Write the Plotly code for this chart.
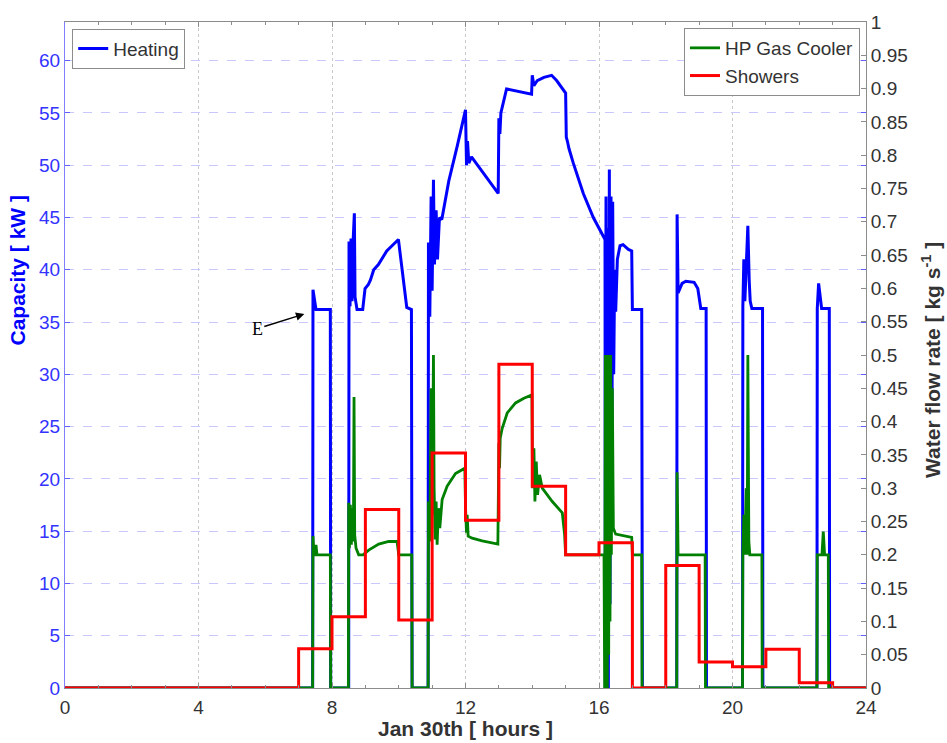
import plotly.graph_objects as go

# Heating capacity [kW], left axis
heat_t = [0, 7.42, 7.43, 7.52, 7.95, 7.96,
          8.50, 8.51, 8.54, 8.57, 8.60, 8.63, 8.67, 8.69, 8.75, 8.92, 8.99, 9.09, 9.15, 9.25,
          9.39, 9.64, 9.99, 10.24, 10.38, 10.40,
          10.88, 10.89, 10.93, 10.97, 11.00, 11.04, 11.07, 11.12, 11.16, 11.22, 11.29, 11.50,
          11.75, 12.00, 12.03, 12.06, 12.10, 12.18, 12.98, 13.00, 13.03, 13.06, 13.23, 13.98,
          14.00, 14.05, 14.15, 14.35, 14.58, 14.73, 15.00, 15.02, 15.06, 15.10, 15.23, 15.53,
          15.83, 16.15, 16.18, 16.19, 16.21, 16.23, 16.26, 16.28, 16.31, 16.33, 16.36, 16.38,
          16.41, 16.44, 16.47, 16.50, 16.55, 16.63, 16.72, 16.88, 16.98, 17.00, 17.28, 17.30,
          18.33, 18.34, 18.37, 18.49, 18.60, 18.85, 18.96, 19.05, 19.21, 19.22,
          20.30, 20.31, 20.34, 20.37, 20.41, 20.46, 20.50, 20.53, 20.58, 20.90, 20.91,
          22.53, 22.54, 22.58, 22.67, 22.90, 22.91, 24]
heat_kw = [0, 0, 38.1, 36.2, 36.2, 0,
           0, 42.7, 36.5, 43.0, 37.0, 42.5, 45.4, 37.4, 36.2, 36.2, 38.2, 38.6, 39.0, 40.0,
           40.5, 41.8, 42.9, 36.4, 36.2, 0,
           0, 42.6, 35.5, 47.0, 38.0, 48.6, 40.5, 45.7, 41.0, 45.0, 44.8, 48.5,
           51.8, 55.3, 50.0, 52.3, 50.2, 50.8, 47.3, 54.5, 53.0, 55.0, 57.3, 56.8,
           58.6, 57.6, 58.1, 58.4, 58.6, 58.1, 56.9, 52.7, 52.2, 51.6, 50.2, 47.3,
           45.0, 43.0, 42.9, 0, 47.0, 5.0, 44.0, 0, 49.6, 8.0, 47.0, 15.0,
           46.5, 30.0, 40.0, 36.0, 41.0, 42.3, 42.4, 41.95, 41.8, 36.2, 36.2, 0,
           0, 45.3, 37.8, 38.7, 38.9, 38.8, 38.2, 36.3, 36.3, 0,
           0, 36.5, 41.0, 37.0, 40.0, 44.2, 39.0, 37.0, 36.3, 36.3, 0,
           0, 36.3, 38.7, 36.3, 36.3, 0, 0]

# Heat pump gas cooler water flow [kg/s], right axis
gc_t = [0, 7.42, 7.43, 7.46, 7.50, 7.52, 7.55, 7.95, 7.96,
        8.49, 8.50, 8.52, 8.55, 8.58, 8.61, 8.64, 8.66, 8.68, 8.72, 8.80, 8.93, 9.10, 9.40,
        9.70, 9.95, 10.00, 10.39, 10.40,
        10.88, 10.89, 10.93, 10.97, 11.00, 11.04, 11.06, 11.09, 11.12, 11.15, 11.19, 11.23,
        11.30, 11.45, 11.70, 11.98, 12.00, 12.03, 12.05, 12.08, 12.20, 12.50, 12.97, 13.00,
        13.02, 13.04, 13.10, 13.25, 13.50, 13.75, 13.99, 14.01, 14.05, 14.08, 14.12, 14.16,
        14.22, 14.30, 14.60, 14.90, 14.97, 15.00, 16.15, 16.17, 16.19, 16.21, 16.23, 16.25,
        16.27, 16.29, 16.31, 16.33, 16.35, 16.37, 16.40, 16.43, 16.50, 16.98, 17.00, 17.28,
        17.29,
        18.33, 18.34, 18.37, 19.18, 19.19,
        20.30, 20.31, 20.34, 20.37, 20.41, 20.44, 20.46, 20.49, 20.52, 20.88, 20.89,
        22.53, 22.54, 22.68, 22.72, 22.76, 22.87, 22.88, 24]
gc_flow = [0, 0, 0.228, 0.2, 0.2, 0.215, 0.2, 0.2, 0,
           0, 0.278, 0.21, 0.275, 0.215, 0.27, 0.22, 0.437, 0.23, 0.21, 0.2, 0.2, 0.207, 0.216,
           0.22, 0.22, 0.2, 0.2, 0,
           0, 0.28, 0.22, 0.45, 0.26, 0.5, 0.3, 0.223, 0.28, 0.215, 0.27, 0.24,
           0.283, 0.303, 0.322, 0.33, 0.273, 0.233, 0.26, 0.228, 0.225, 0.221, 0.216, 0.368,
           0.33, 0.375, 0.39, 0.413, 0.428, 0.435, 0.44, 0.30, 0.36, 0.28, 0.34, 0.29,
           0.32, 0.30, 0.28, 0.263, 0.23, 0.2, 0.2, 0, 0.5, 0, 0.5, 0,
           0.5, 0.05, 0.5, 0.1, 0.5, 0.2, 0.45, 0.24, 0.231, 0.226, 0.2, 0.2,
           0,
           0, 0.324, 0.2, 0.2, 0,
           0, 0.2, 0.26, 0.2, 0.3, 0.2, 0.5, 0.22, 0.2, 0.2, 0,
           0, 0.2, 0.2, 0.235, 0.2, 0.2, 0, 0]

# Shower draw-off flow [kg/s], hourly steps
shower_t = [0, 7, 8, 9, 10, 11, 12, 13, 14, 15, 16, 17, 18, 19, 20, 21, 22, 23, 24]
shower_flow = [0, 0.059, 0.107, 0.268, 0.102, 0.353, 0.252, 0.486, 0.303, 0.2, 0.218, 0,
               0.184, 0.039, 0.032, 0.058, 0.008, 0, 0]

x_ticks = [0, 4, 8, 12, 16, 20, 24]
kw_ticks = list(range(0, 61, 5))
flow_ticks = [round(i * 0.05, 2) for i in range(21)]
flow_labels = [("%g" % v) for v in flow_ticks]

FONT = "Liberation Sans, Arial, sans-serif"
DARK = "#333333"
BLUE = "#0000ff"
TICK_SIZE = 19
LEGEND_SIZE = 19
TITLE_SIZE = 21

fig = go.Figure()
fig.add_trace(go.Scatter(x=heat_t, y=heat_kw, mode="lines", name="Heating",
                         line=dict(color=BLUE, width=3), legend="legend", showlegend=True))
fig.add_trace(go.Scatter(x=gc_t, y=gc_flow, mode="lines", name="HP Gas Cooler",
                         line=dict(color="#008000", width=2.8), yaxis="y2", legend="legend2",
                         showlegend=True))
fig.add_trace(go.Scatter(x=shower_t, y=shower_flow, mode="lines", name="Showers",
                         line=dict(color="#ff0000", width=3, shape="hv"), yaxis="y2",
                         legend="legend2", showlegend=True))

fig.update_layout(
    width=947, height=743,
    margin=dict(l=65, r=81, t=18, b=55),
    paper_bgcolor="white", plot_bgcolor="white",
    showlegend=True,
    font=dict(family=FONT, size=TICK_SIZE, color=DARK),
    xaxis=dict(range=[0, 24], tickvals=x_ticks, ticktext=[str(v) for v in x_ticks],
               showgrid=True, gridcolor="#c8c8c8", griddash="dot", gridwidth=1,
               showline=True, linecolor="#8c8c8c", linewidth=1, mirror="ticks",
               ticks="inside", ticklen=5, tickcolor="#8c8c8c", ticklabelstandoff=2,
               minor=dict(dtick=1, ticks="inside", ticklen=3, tickcolor="#8c8c8c", showgrid=False),
               tickfont=dict(size=TICK_SIZE, color=DARK), zeroline=False),
    yaxis=dict(range=[0, 63.7], tickvals=kw_ticks, ticktext=[str(v) for v in kw_ticks],
               showgrid=True, gridcolor="#c8c8ff", griddash="dash", gridwidth=1,
               showline=True, linecolor="#8080ff", linewidth=1, mirror="ticks",
               ticks="inside", ticklen=5, tickcolor="#6060ff",
               tickfont=dict(size=TICK_SIZE, color="#3333ff"), zeroline=False),
    yaxis2=dict(range=[0, 1], overlaying="y", side="right", tickvals=flow_ticks,
                ticktext=flow_labels, showgrid=False, showline=True, linecolor="#8c8c8c",
                linewidth=1, ticks="inside", ticklen=5, tickcolor="#8c8c8c",
                tickfont=dict(size=TICK_SIZE, color=DARK), zeroline=False),
    legend=dict(x=0.009, y=0.99, xanchor="left", yanchor="top", bgcolor="white",
                bordercolor="#8c8c8c", borderwidth=1, font=dict(size=LEGEND_SIZE, color=DARK),
                tracegroupgap=0, itemwidth=30, visible=True),
    legend2=dict(x=0.9925, y=0.991, xanchor="right", yanchor="top", bgcolor="white",
                 bordercolor="#8c8c8c", borderwidth=1, font=dict(size=LEGEND_SIZE, color=DARK),
                 tracegroupgap=0, itemwidth=30, visible=True),
    annotations=[
        dict(text="<b>Capacity [ kW ]</b>", xref="paper", yref="paper",
             x=-65 / 801 + 18 / 801, y=(688 - 267) / 670, textangle=-90, showarrow=False,
             font=dict(size=TITLE_SIZE, color=BLUE), xanchor="center", yanchor="middle"),
        dict(text="<b>Water flow rate [ kg s<sup>-1</sup> ]</b>", xref="paper", yref="paper",
             x=(931 - 65) / 801, y=(688 - 358) / 670, textangle=-90, showarrow=False,
             font=dict(size=TITLE_SIZE, color=DARK), xanchor="center", yanchor="middle"),
        dict(text="<b>Jan 30th [ hours ]</b>", xref="paper", yref="paper",
             x=0.5, y=-(729 - 688) / 670, showarrow=False,
             font=dict(size=TITLE_SIZE, color=DARK), xanchor="center", yanchor="middle"),
        dict(text="E", x=7.2, y=35.8, xref="x", yref="y", showarrow=True,
             ax=-48, ay=15, arrowhead=2, arrowsize=1.2, arrowwidth=1.4, arrowcolor="black",
             font=dict(family="Liberation Serif, Times New Roman, serif", size=18,
                       color="black"), standoff=1),
    ],
)

fig.write_html("out.html")
